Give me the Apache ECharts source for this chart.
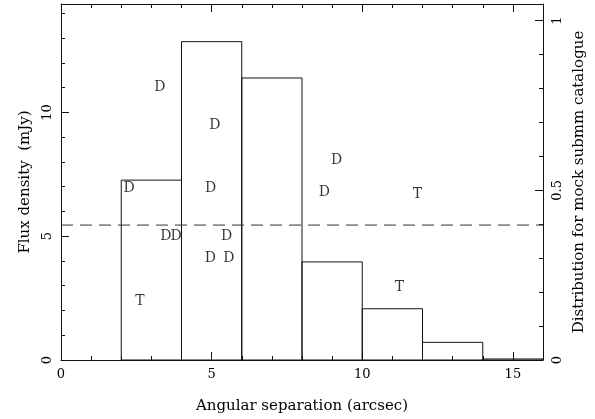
<!DOCTYPE html>
<html>
<head>
<meta charset="utf-8">
<script src="https://cdn.jsdelivr.net/npm/echarts@6/dist/echarts.min.js"></script>
<style>
  html, body { margin: 0; padding: 0; background: #fff; }
  #main { width: 595px; height: 419px; }
</style>
</head>
<body>
<div id="main"></div>
<script>
/*直方图：mock submm catalogue 的分布（右轴）*/
var binStart = [0, 2, 4, 6, 8, 10, 12, 14];
var binEnd = [2, 4, 6, 8, 10, 12, 14, 16];
var binValue = [0, 0.53, 0.938, 0.831, 0.289, 0.151, 0.052, 0.003];

/*D 类源：角距离 / 流量*/
var sepD = [3.28, 5.11, 2.26, 4.97, 3.48, 3.82, 5.50, 4.96, 5.57, 9.15, 8.74];
var fluxD = [11.03, 9.48, 6.95, 6.95, 4.99, 4.99, 4.99, 4.10, 4.10, 8.07, 6.77];
/*T 类源*/
var sepT = [2.62, 11.23, 11.83];
var fluxT = [2.36, 2.92, 6.71];

/*流量极限（虚线）*/
var fluxLimit = 5.45;

var fontFam = 'DejaVu Serif';
var ink = '#111';

function toPoints(xs, ys, tag) {
  var arr = [];
  for (var i = 0; i < xs.length; i++) {
    arr.push([xs[i], ys[i], tag]);
  }
  return arr;
}

var histData = [];
for (var b = 0; b < binStart.length; b++) {
  histData.push([binStart[b], binEnd[b], binValue[b]]);
}

/*刻度朝内：用负长度*/
function tickStyle() {
  return {show: true, inside: false, length: -8, lineStyle: {color: ink, width: 1}};
}
function minorStyle() {
  return {show: true, splitNumber: 5, length: -4, lineStyle: {color: ink, width: 1}};
}

var option = {
  animation: false,
  backgroundColor: '#fff',
  grid: {left: 61, right: 52, top: 4, bottom: 57, containLabel: false},
  xAxis: [{
    type: 'value',
    min: 0,
    max: 16,
    interval: 5,
    name: 'Angular separation (arcsec)',
    nameLocation: 'middle',
    nameGap: 39,
    nameTextStyle: {fontFamily: fontFam, fontSize: 15, color: '#000'},
    axisLine: {show: true, onZero: false, lineStyle: {color: ink, width: 1}},
    axisTick: tickStyle(),
    minorTick: minorStyle(),
    splitLine: {show: false},
    axisLabel: {
      margin: 8, fontFamily: fontFam, fontSize: 13, color: '#000',
      showMaxLabel: false,
      formatter: function (v) { return v % 5 === 0 ? String(v) : ''; }
    }
  }, {
    type: 'value',
    position: 'top',
    min: 0,
    max: 16,
    interval: 5,
    axisLine: {show: true, onZero: false, lineStyle: {color: ink, width: 1}},
    axisTick: tickStyle(),
    minorTick: minorStyle(),
    splitLine: {show: false},
    axisLabel: {show: false}
  }],
  yAxis: [{
    type: 'value',
    min: 0,
    max: 14.38,
    interval: 5,
    name: 'Flux density  (mJy)',
    nameLocation: 'middle',
    nameGap: 28,
    nameTextStyle: {fontFamily: fontFam, fontSize: 15, color: '#000'},
    axisLine: {show: true, onZero: false, lineStyle: {color: ink, width: 1}},
    axisTick: tickStyle(),
    minorTick: minorStyle(),
    splitLine: {show: false},
    axisLabel: {
      rotate: 90, margin: 7, fontFamily: fontFam, fontSize: 13, color: '#000',
      showMaxLabel: false,
      formatter: function (v) { return v % 5 === 0 ? String(v) : ''; }
    }
  }, {
    type: 'value',
    position: 'right',
    min: 0,
    max: 1.049,
    interval: 0.5,
    name: 'Distribution for mock submm catalogue',
    nameLocation: 'middle',
    nameGap: 25,
    nameTextStyle: {fontFamily: fontFam, fontSize: 15, color: '#000'},
    axisLine: {show: true, onZero: false, lineStyle: {color: ink, width: 1}},
    axisTick: tickStyle(),
    minorTick: minorStyle(),
    splitLine: {show: false},
    axisLabel: {
      rotate: 90, margin: 8, fontFamily: fontFam, fontSize: 13, color: '#000',
      showMaxLabel: false,
      formatter: function (v) {
        var r = Math.round(v * 10) / 10;
        return (Math.abs(v - r) < 1e-6 && (r * 10) % 5 === 0) ? String(r) : '';
      }
    }
  }],
  series: [
    {
      //直方图，每个 bin 画成一个空心矩形
      type: 'custom',
      xAxisIndex: 0,
      yAxisIndex: 1,
      data: histData,
      renderItem: function (params, api) {
        var p0 = api.coord([api.value(0), 0]);
        var p1 = api.coord([api.value(1), api.value(2)]);
        if (api.value(2) <= 0) {
          return null;
        }
        return {
          type: 'rect',
          shape: {x: p0[0], y: p1[1], width: p1[0] - p0[0], height: p0[1] - p1[1]},
          style: {fill: 'none', stroke: ink, lineWidth: 1}
        };
      },
      z: 2
    },
    {
      //流量极限虚线
      type: 'line',
      xAxisIndex: 0,
      yAxisIndex: 0,
      data: [[0, fluxLimit], [16, fluxLimit]],
      symbol: 'none',
      lineStyle: {color: '#333', width: 1, type: [12, 7]},
      z: 3
    },
    {
      type: 'scatter',
      xAxisIndex: 0,
      yAxisIndex: 0,
      data: toPoints(sepD, fluxD, 'D').concat(toPoints(sepT, fluxT, 'T')),
      symbolSize: 1,
      itemStyle: {color: 'rgba(0,0,0,0)'},
      label: {
        show: true,
        position: 'inside',
        formatter: function (p) { return p.value[2]; },
        fontFamily: fontFam,
        fontSize: 14,
        color: '#000'
      },
      z: 4
    }
  ]
};

var chart = echarts.init(document.getElementById('main'), null, {renderer: 'canvas'});
chart.setOption(option);
</script>
</body>
</html>
